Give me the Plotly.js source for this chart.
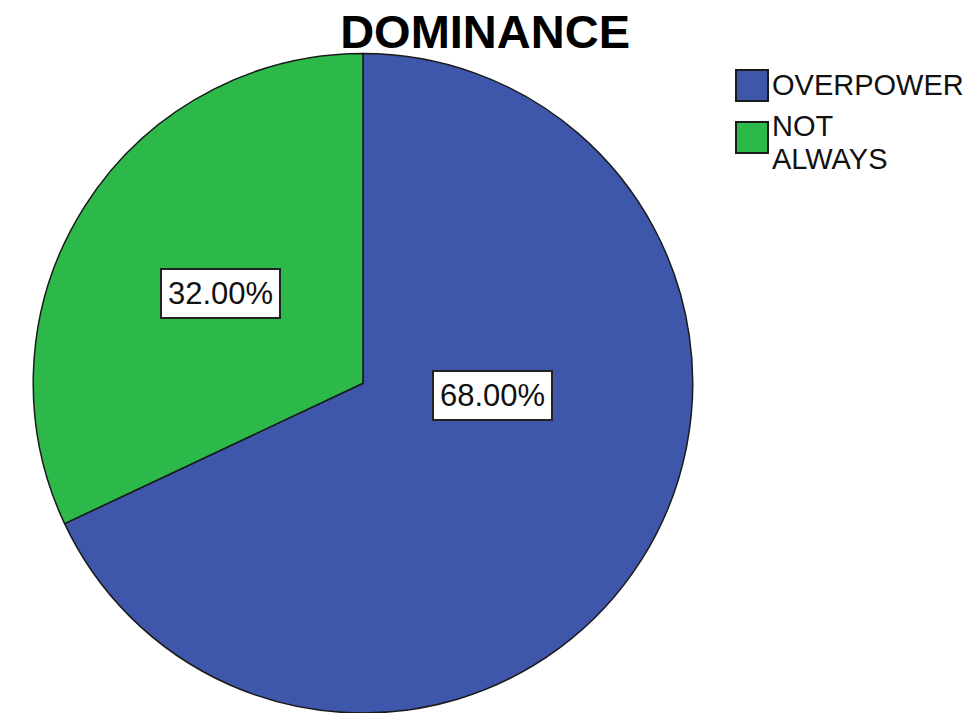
<!DOCTYPE html>
<html>
<head>
<meta charset="utf-8">
<script src="https://cdn.plot.ly/plotly-3.0.1.min.js"></script>
<style>html,body{margin:0;padding:0;background:#fff;}#chart{width:976px;height:713px;}</style>
</head>
<body>
<div id="chart"></div>
<script>
// Data
const categories = ["OVERPOWER", "NOT ALWAYS"];
const legendLines = [["OVERPOWER"], ["NOT", "ALWAYS"]];
const percentages = [68.00, 32.00];
const sliceColors = ["#3E57AB", "#2DB84A"];

const FONT = "Liberation Sans, Arial, sans-serif";

const trace = {
  type: "pie",
  labels: categories,
  values: percentages,
  sort: false,
  direction: "clockwise",
  rotation: 0,
  textinfo: "none",
  hoverinfo: "label+percent",
  marker: { colors: sliceColors, line: { color: "#1a1a1a", width: 1.5 } },
  domain: { x: [0.0338, 0.7100], y: [0, 0.925] },
  showlegend: false
};

// Value labels (boxed), placed in the slices
const labelPos = [[0.505, 0.446], [0.226, 0.589]];
const annotations = percentages.map((v, i) => ({
  xref: "paper", yref: "paper",
  x: labelPos[i][0], y: labelPos[i][1],
  xanchor: "center", yanchor: "middle",
  text: v.toFixed(2) + "%",
  showarrow: false,
  font: { family: FONT, size: 31, color: "#111" },
  bgcolor: "#ffffff",
  bordercolor: "#222",
  borderwidth: 2,
  borderpad: 6
}));

// Custom legend: colored squares with labels
const shapes = [];
const legTop = [70, 122];
const textMids = [[85], [125.5, 158.5]];
legendLines.forEach((lines, i) => {
  const y0 = legTop[i], y1 = legTop[i] + 31;
  shapes.push({
    type: "rect", xref: "paper", yref: "paper",
    x0: 736 / 976, x1: 768 / 976,
    y0: 1 - y1 / 713, y1: 1 - y0 / 713,
    fillcolor: sliceColors[i],
    line: { color: "#1a1a1a", width: 2 }
  });
  lines.forEach((ln, j) => {
    annotations.push({
      xref: "paper", yref: "paper",
      x: 771 / 976, y: 1 - textMids[i][j] / 713,
      xanchor: "left", yanchor: "middle", align: "left",
      borderpad: 0,
      text: ln, showarrow: false,
      font: { family: FONT, size: 29, color: "#111" }
    });
  });
});

const layout = {
  width: 976, height: 713,
  margin: { l: 0, r: 0, t: 0, b: 0 },
  paper_bgcolor: "#ffffff",
  plot_bgcolor: "#ffffff",
  title: {
    text: "<b>DOMINANCE</b>",
    font: { family: FONT, size: 47, color: "#000" },
    x: 0.497, xanchor: "center", xref: "paper",
    y: 1 - 32 / 713, yanchor: "middle", yref: "container"
  },
  annotations: annotations,
  shapes: shapes,
  showlegend: false
};

Plotly.newPlot("chart", [trace], layout, { displayModeBar: false, staticPlot: true });
</script>
</body>
</html>
